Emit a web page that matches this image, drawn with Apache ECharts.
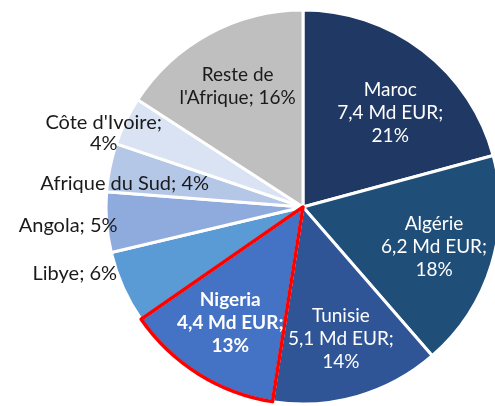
<!DOCTYPE html>
<html>
<head>
<meta charset="utf-8">
<script src="https://cdn.jsdelivr.net/npm/echarts@6/dist/echarts.min.js"></script>
<style>
  html, body { margin: 0; padding: 0; background: #fff; }
  #chart { width: 495px; height: 406px; }
</style>
</head>
<body>
<div id="chart"></div>
<script>
// parts de marché, sens horaire à partir de midi
const countries = ['Maroc', 'Algérie', 'Tunisie', 'Nigeria', 'Libye', 'Angola', 'Afrique du Sud', "Côte d'Ivoire", "Reste de l'Afrique"]
const shares = [21, 18, 14, 13, 6, 5, 4, 4, 16]
const amounts = [7.4, 6.2, 5.1, 4.4, null, null, null, null, null] // Md EUR
const colors = ['#203864', '#1F4E79', '#2F5597', '#4472C4', '#5B9BD5', '#8FAADC', '#B4C7E7', '#DAE3F3', '#BFBFBF']
const insideLabel = [true, true, true, true, false, false, false, false, true]
const highlighted = 'Nigeria'

const FONT = 'Lato'
const CENTER = [303, 207]
const R = 197

// petits décalages d'étiquettes (pour coller à la maquette)
const labelShift = {
  'Maroc': { dx: 4, dy: 15 },
  'Libye': { dx: -1, dy: -14 },
  'Angola': { dx: 16, dy: 3 },
  'Afrique du Sud': { dx: 104, dy: 16 },
  "Côte d'Ivoire": { dx: -17, dy: 12, align: 'center' }
}

function fmt(v) {
  return String(v).replace('.', ',')
}

function labelText(i) {
  const name = countries[i]
  if (amounts[i] != null) {
    return name + '\n' + fmt(amounts[i]) + ' Md EUR;\n' + shares[i] + '%'
  }
  if (name === "Reste de l'Afrique") return "Reste de\nl'Afrique; " + shares[i] + '%'
  if (name === "Côte d'Ivoire") return name + ';\n' + shares[i] + '%'
  return name + '; ' + shares[i] + '%'
}

function shiftLabel(params) {
  return labelShift[countries[params.dataIndex]] || {}
}

const chart = echarts.init(document.getElementById('chart'))

chart.setOption({
  animation: false,
  series: [
    {
      // les secteurs + étiquettes extérieures
      type: 'pie',
      center: CENTER,
      radius: [0, R],
      startAngle: 90,
      clockwise: true,
      silent: true,
      avoidLabelOverlap: false,
      itemStyle: { borderColor: '#fff', borderWidth: 3 },
      labelLine: { show: false, length: 0, length2: 0 },
      labelLayout: shiftLabel,
      data: countries.map((c, i) => ({
        name: c,
        value: shares[i],
        itemStyle: { color: colors[i] },
        label: insideLabel[i] ? { show: false } : {
          show: true,
          position: 'outside',
          formatter: labelText(i),
          color: '#1a1a1a',
          fontFamily: FONT,
          fontSize: 20,
          lineHeight: 21,
          overflow: 'none'
        }
      }))
    },
    {
      // étiquettes intérieures, placées vers 0.68 R
      type: 'pie',
      center: CENTER,
      radius: [R * 0.36, R],
      startAngle: 90,
      clockwise: true,
      silent: true,
      itemStyle: { color: 'rgba(0,0,0,0)', borderWidth: 0 },
      labelLine: { show: false },
      labelLayout: shiftLabel,
      data: countries.map((c, i) => ({
        name: c,
        value: shares[i],
        label: insideLabel[i] ? {
          show: true,
          position: 'inside',
          formatter: labelText(i),
          color: c === "Reste de l'Afrique" ? '#1a1a1a' : '#fff',
          fontWeight: c === highlighted ? 'bold' : 'normal',
          fontFamily: FONT,
          fontSize: 19,
          lineHeight: 23
        } : { show: false }
      }))
    },
    {
      // contour rouge du Nigeria
      type: 'pie',
      center: CENTER,
      radius: [0, R],
      startAngle: 90,
      clockwise: true,
      silent: true,
      label: { show: false },
      labelLine: { show: false },
      data: countries.map((c, i) => ({
        name: c,
        value: shares[i],
        itemStyle: c === highlighted
          ? { color: 'rgba(0,0,0,0)', borderColor: '#FF0000', borderWidth: 3.5 }
          : { color: 'rgba(0,0,0,0)', borderWidth: 0 }
      }))
    }
  ]
})
</script>
</body>
</html>
